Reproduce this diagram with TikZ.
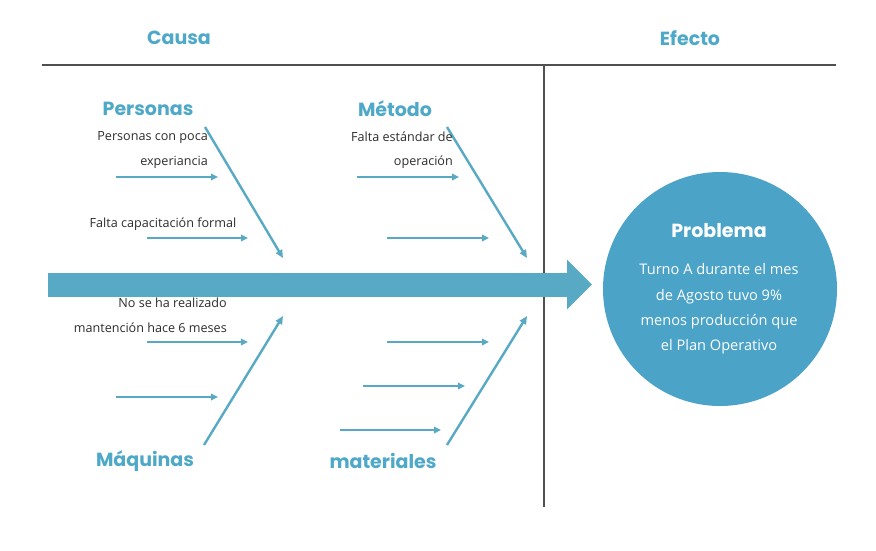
\documentclass[tikz,border=0pt]{standalone}
\usepackage{fontspec}
\setmainfont{Open Sans}
\newfontfamily\headfont{Poppins}
\usetikzlibrary{arrows.meta}
\definecolor{bone}{RGB}{88,170,196}
\definecolor{headc}{RGB}{78,168,200}
\definecolor{circc}{RGB}{75,163,200}
\definecolor{rulec}{RGB}{80,80,80}
\definecolor{txtc}{RGB}{45,45,45}
\tikzset{
  heading/.style={font=\headfont\bfseries\fontsize{19}{21}\selectfont, text=headc, inner sep=0pt},
  cause/.style={font=\fontsize{12.6}{24.5}\selectfont, text=txtc, inner sep=0pt, align=right},
  tick/.style={draw=bone, line width=2.4pt, -{Triangle[length=7pt,width=6.5pt]}},
  rib/.style={draw=bone, line width=2.4pt, -{Triangle[length=8pt,width=7pt]}},
  rulel/.style={draw=rulec, line width=2.4pt},
  probtxt/.style={font=\fontsize{14.6}{25.3}\selectfont, text=white, align=center, inner sep=0pt}
}
\begin{document}
\begin{tikzpicture}[x=1pt,y=-1pt]
\useasboundingbox[fill=white] (0,0) rectangle (876,550);

% header
\node[heading] (causa) at (179,38) {Causa};
\node[heading] (efecto) at (690,38) {Efecto};
\coordinate (hl) at (42,65);
\coordinate (hr) at (836,65);
\coordinate (vt) at (544,65);
\coordinate (vb) at (544,507);
\draw[rulel] (hl) -- (hr);
\draw[rulel] (vt) -- (vb);

% spine
\coordinate (sp0) at (48,284.5);
\coordinate (sp1) at (592,284.5);
\draw[draw=bone, line width=24pt, -{Triangle[length=25pt,width=48pt]}] (sp0) -- (sp1);

% problem circle
\node[circle, fill=circc, minimum size=234pt, inner sep=0pt] (prob) at (720,289) {};
\node[font=\headfont\bfseries\fontsize{19}{21}\selectfont, text=white, inner sep=0pt] (probt) at (719,231) {Problema};
\node[probtxt] (probd) at (719,309) {Turno A durante el mes\\de Agosto tuvo 9\%\\menos producción que\\el Plan Operativo};

% Personas
\node[heading] (personas) at (148,109) {Personas};
\coordinate (p0) at (205,127);
\coordinate (p1) at (283,258);
\draw[rib] (p0) -- (p1);
\node[cause, anchor=east] (pc1) at (208,150) {Personas con poca\\experiancia};
\coordinate (pa0) at (116,177); \coordinate (pa1) at (218,177);
\draw[tick] (pa0) -- (pa1);
\node[cause] (pc2) at (163,224) {Falta capacitación formal};
\coordinate (pb0) at (147,238); \coordinate (pb1) at (248,238);
\draw[tick] (pb0) -- (pb1);

% Metodo
\node[heading] (metodo) at (395,109) {Método};
\coordinate (m0) at (447,127);
\coordinate (m1) at (527,258);
\draw[rib] (m0) -- (m1);
\node[cause, anchor=east] (mc1) at (453,150) {Falta estándar de\\operación};
\coordinate (ma0) at (357,177); \coordinate (ma1) at (459,177);
\draw[tick] (ma0) -- (ma1);
\coordinate (mb0) at (387,238); \coordinate (mb1) at (489,238);
\draw[tick] (mb0) -- (mb1);

% Maquinas
\node[heading] (maquinas) at (145,461) {Máquinas};
\coordinate (q0) at (204,445);
\coordinate (q1) at (283,316);
\draw[rib] (q0) -- (q1);
\node[cause, anchor=east] (qc1) at (227,315.5) {No se ha realizado\\mantención hace 6 meses};
\coordinate (qa0) at (147,342); \coordinate (qa1) at (248,342);
\draw[tick] (qa0) -- (qa1);
\coordinate (qb0) at (116,397); \coordinate (qb1) at (218,397);
\draw[tick] (qb0) -- (qb1);

% materiales
\node[heading] (materiales) at (383,461) {materiales};
\coordinate (t0) at (447,445);
\coordinate (t1) at (527,316);
\draw[rib] (t0) -- (t1);
\coordinate (ta0) at (387,342); \coordinate (ta1) at (489,342);
\draw[tick] (ta0) -- (ta1);
\coordinate (tb0) at (363,386); \coordinate (tb1) at (465,386);
\draw[tick] (tb0) -- (tb1);
\coordinate (tc0) at (340,430); \coordinate (tc1) at (441,430);
\draw[tick] (tc0) -- (tc1);
\end{tikzpicture}
\end{document}
